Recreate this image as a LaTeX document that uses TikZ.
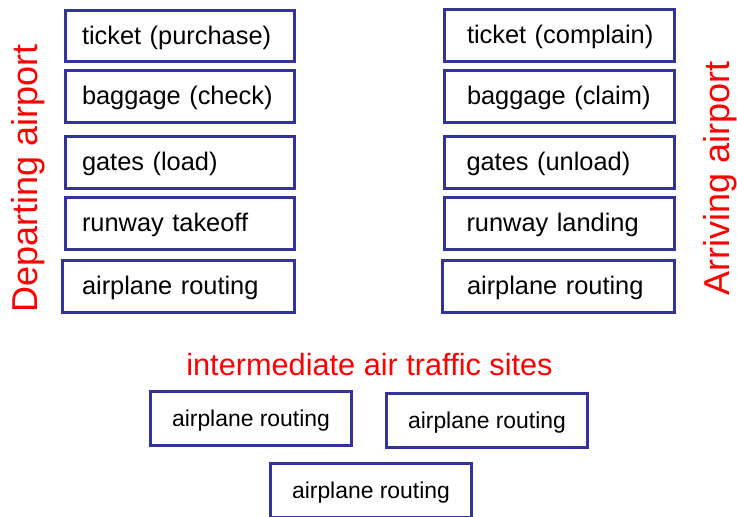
\documentclass[tikz,border=0pt]{standalone}
\usepackage{fontspec}
\setmainfont{Liberation Sans}
\definecolor{boxblue}{RGB}{51,51,153}
\definecolor{labelred}{RGB}{255,0,0}
\begin{document}
\begin{tikzpicture}[x=1pt,y=-1pt,
  box/.style 2 args={draw=boxblue, line width=3pt, minimum height=52pt, inner ysep=0pt,
    inner xsep=#1, text width=#2, align=left, text height=20pt, text depth=4pt,
    font=\fontsize{25.4}{30}\selectfont,
    execute at begin node={\hbox\bgroup}, execute at end node={\egroup}},
  sbox/.style={draw=boxblue, line width=3pt, minimum width=201pt, minimum height=54pt,
    inner sep=0pt, align=center, text height=20.5pt, text depth=4.5pt,
    font=\fontsize{22.9}{27}\selectfont},
  side/.style={text=labelred, rotate=90, anchor=base, inner sep=0pt,
    font=\fontsize{36}{42}\selectfont},
  midlabel/.style={text=labelred, anchor=base, inner sep=0pt,
    font=\fontsize{30.7}{36}\selectfont}]
\useasboundingbox (0,0) rectangle (737,517);

% departing airport stack
\node[box={16.5pt}{196pt}, minimum height=51pt] (l1) at (180,36) {ticket (purchase)};
\node[box={16.5pt}{196pt}] (l2) at (180,96) {baggage (check)};
\node[box={16.5pt}{196pt}] (l3) at (180,162) {gates (load)};
\node[box={16.5pt}{196pt}] (l4) at (180,223.5) {runway takeoff};
\node[box={19.5pt}{193pt}] (l5) at (178.5,286.5) {airplane routing};

% arriving airport stack
\node[box={22.5pt}{185pt}] (r1) at (559.5,35.5) {ticket (complain)};
\node[box={22.5pt}{185pt}] (r2) at (559.5,96) {baggage (claim)};
\node[box={22.5pt}{185pt}] (r3) at (559,162) {gates (unload)};
\node[box={22.5pt}{185pt}] (r4) at (559,223) {runway landing};
\node[box={24.5pt}{183pt}] (r5) at (558.5,286.5) {airplane routing};

% side labels
\node[side] (dep) at (37,178.5) {Departing airport};
\node[side] (arr) at (729.5,178.5) {Arriving airport};

% intermediate sites
\node[midlabel] (mid) at (369.5,375) {intermediate air traffic sites};
\node[sbox] (m1) at (251,418.5) {airplane routing};
\node[sbox] (m2) at (487,420.5) {airplane routing};
\node[sbox] (m3) at (371,490.5) {airplane routing};
\end{tikzpicture}
\end{document}
